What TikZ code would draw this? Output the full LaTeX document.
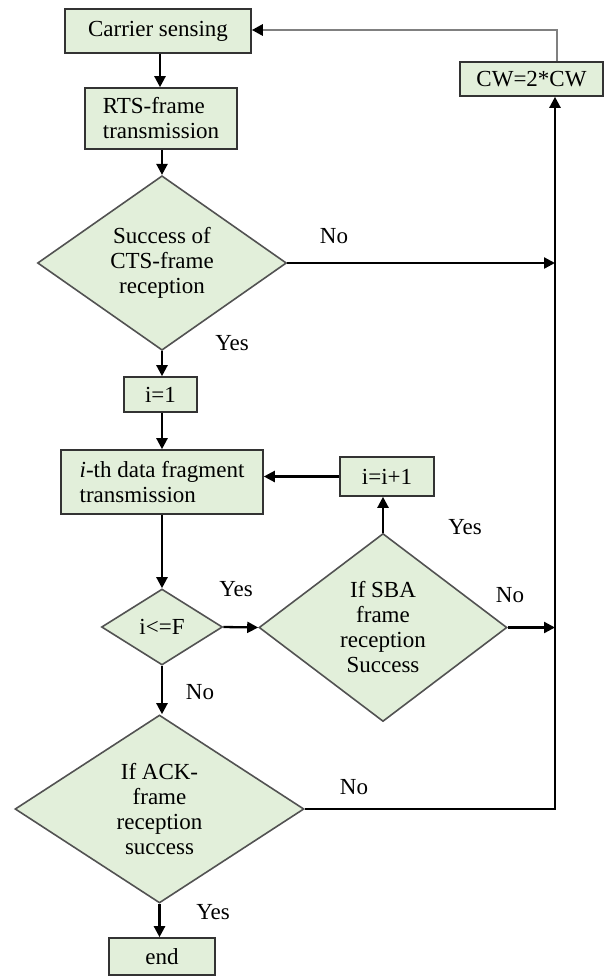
\documentclass[tikz,border=0pt]{standalone}
\usepackage{fontspec}
\setmainfont{Liberation Serif}
\usetikzlibrary{shapes.geometric,arrows.meta}
\definecolor{boxfill}{HTML}{E2EFDA}
\definecolor{boxline}{HTML}{333333}
\definecolor{fbgray}{HTML}{808080}
\tikzset{
  base/.style={draw=boxline, fill=boxfill, line width=1.6pt, font=\fontsize{23}{25}\selectfont, inner sep=0pt},
  procbox/.style={base, rectangle},
  decbox/.style={base, diamond, draw=boxline!85, align=center},
  flow/.style={line width=2.3pt, -{Triangle[length=11pt,width=11pt,color=black]}},
  lbl/.style={font=\fontsize{23}{25}\selectfont, inner sep=0pt}
}
\begin{document}
\begin{tikzpicture}[x=1pt,y=-1pt]
\useasboundingbox (0,0) rectangle (605,977);
% boxes
\node[procbox, minimum width=186pt, minimum height=44pt] (cs) at (158,31) {Carrier sensing};
\node[procbox, minimum width=152pt, minimum height=61pt, align=left] (rts) at (161,118.5) {RTS-frame\\transmission};
\node[procbox, minimum width=143pt, minimum height=34pt] (cw) at (531.5,79) {CW=2*CW};
\node[decbox, minimum width=249pt, minimum height=160pt] (cts) at (162,263) {Success of\\CTS-frame\\reception};
\node[procbox, minimum width=73pt, minimum height=35pt] (i1) at (160.5,394.5) {i=1};
\node[procbox, minimum width=202pt, minimum height=64pt, align=left] (ith) at (162,482) {\textit{i}-th data fragment\\transmission};
\node[procbox, minimum width=94pt, minimum height=39pt] (inc) at (387,476.5) {i=i+1};
\node[decbox, minimum width=121pt, minimum height=76pt] (le) at (162,627) {i<=F};
\node[decbox, minimum width=248pt, minimum height=188pt] (sba) at (383,627.5) {If SBA\\frame\\reception\\Success};
\node[decbox, minimum width=289pt, minimum height=188pt] (ack) at (159.5,809) {If ACK-\\frame\\reception\\success};
\node[procbox, minimum width=106pt, minimum height=37pt] (end) at (162,956.5) {end};
% bus coordinates
\coordinate (busx) at (555,0);
\coordinate (fbx) at (557,0);
% connectors
\draw[flow] (cs.south -| 160,0) -- (rts.north -| 160,0);
\draw[flow] (rts.south -| cts.north) -- (cts.north);
\draw[flow] (cts.south) -- (cts.south |- i1.north);
\draw[flow] (cts.east) -- (cts.east -| busx);
\draw[flow] (i1.south -| ith.north) -- (ith.north);
\draw[flow] (ith.south) -- (le.north);
\draw[flow] (le.east) -- (sba.west);
\draw[flow] (le.south) -- (le.south |- ack.north);
\draw[flow] (sba.north) -- (sba.north |- inc.south);
\draw[flow] (inc.west) -- (inc.west -| ith.east);
\draw[flow] (sba.east) -- (sba.east -| busx);
\draw[flow] (ack.east) -- (ack.east -| busx) -- (busx |- cw.south);
\draw[flow] (ack.south) -- (ack.south |- end.north);
\draw[flow, draw=fbgray, line width=2.8pt] (fbx |- cw.north) -- (557,30) -- (cs.east |- 0,30);
% labels
\node[lbl] (l1) at (334,236) {No};
\node[lbl] (l2) at (232,343) {Yes};
\node[lbl] (l3) at (465,527) {Yes};
\node[lbl] (l4) at (236,589) {Yes};
\node[lbl] (l5) at (510,595) {No};
\node[lbl] (l6) at (200,692) {No};
\node[lbl] (l7) at (354,787) {No};
\node[lbl] (l8) at (213,912) {Yes};
\end{tikzpicture}
\end{document}
